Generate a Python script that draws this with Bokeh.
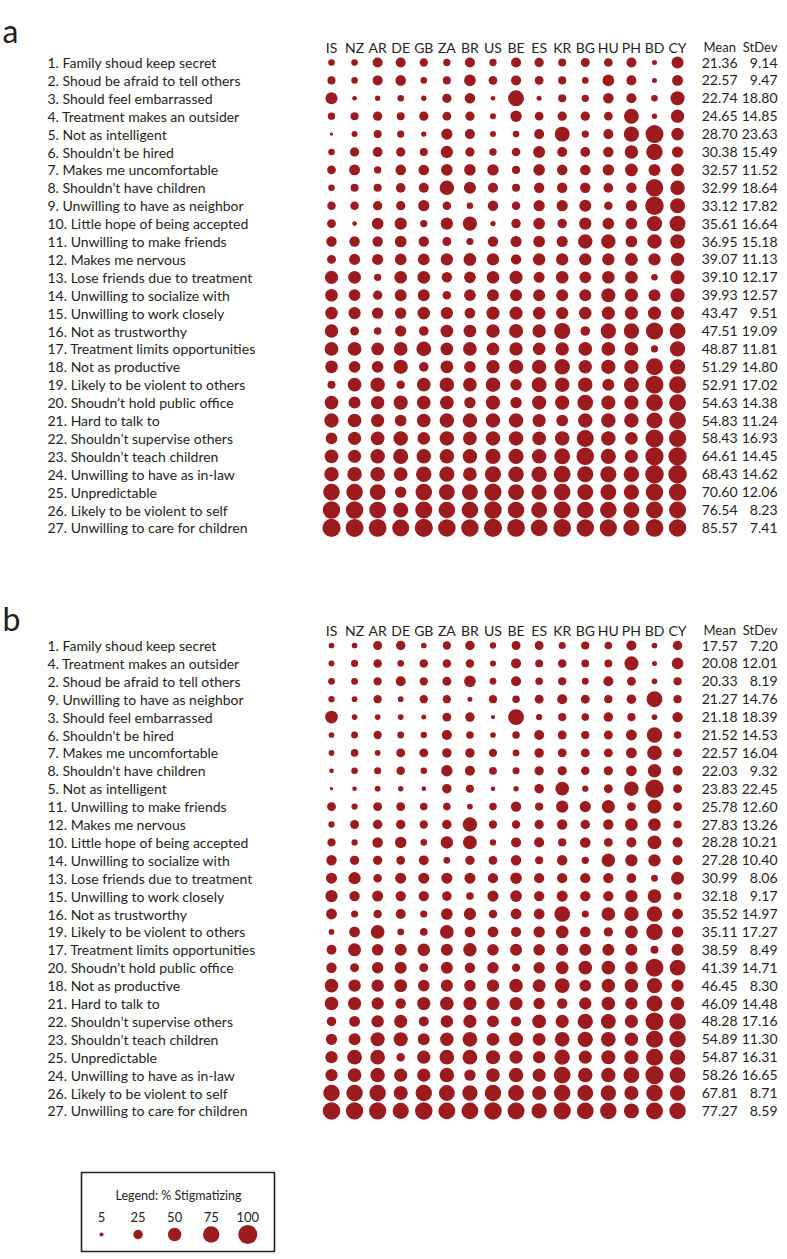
from bokeh.plotting import figure
from bokeh.models import Range1d, ColumnDataSource
from bokeh.core.properties import value
from bokeh.embed import file_html
from bokeh.resources import INLINE
import math

countries = ["IS", "NZ", "AR", "DE", "GB", "ZA", "BR", "US", "BE", "ES", "KR", "BG", "HU", "PH", "BD", "CY"]

labels_a = [
    "1. Family shoud keep secret", "2. Shoud be afraid to tell others", "3. Should feel embarrassed",
    "4. Treatment makes an outsider", "5. Not as intelligent", "6. Shouldn\u2019t be hired",
    "7. Makes me uncomfortable", "8. Shouldn\u2019t have children", "9. Unwilling to have as neighbor",
    "10. Little hope of being accepted", "11. Unwilling to make friends", "12. Makes me nervous",
    "13. Lose friends due to treatment", "14. Unwilling to socialize with", "15. Unwilling to work closely",
    "16. Not as trustworthy", "17. Treatment limits opportunities", "18. Not as productive",
    "19. Likely to be violent to others", "20. Shoudn\u2019t hold public office", "21. Hard to talk to",
    "22. Shouldn\u2019t supervise others", "23. Shouldn\u2019t teach children", "24. Unwilling to have as in-law",
    "25. Unpredictable", "26. Likely to be violent to self", "27. Unwilling to care for children",
]
mean_a = [21.36, 22.57, 22.74, 24.65, 28.70, 30.38, 32.57, 32.99, 33.12, 35.61, 36.95, 39.07, 39.10, 39.93,
          43.47, 47.51, 48.87, 51.29, 52.91, 54.63, 54.83, 58.43, 64.61, 68.43, 70.60, 76.54, 85.57]
sd_a = [9.14, 9.47, 18.80, 14.85, 23.63, 15.49, 11.52, 18.64, 17.82, 16.64, 15.18, 11.13, 12.17, 12.57,
        9.51, 19.09, 11.81, 14.80, 17.02, 14.38, 11.24, 16.93, 14.45, 14.62, 12.06, 8.23, 7.41]
# % stigmatizing, one list per item, countries in the order above
vals_a = [
    [12, 12, 28, 28, 19, 15, 28, 15, 28, 24, 18, 22, 21, 28, 7, 40],
    [18, 12, 28, 31, 12, 18, 38, 21, 28, 22, 18, 12, 38, 28, 7, 33],
    [40, 6, 8, 12, 8, 24, 31, 6, 70, 7, 18, 15, 31, 28, 12, 55],
    [15, 18, 24, 18, 24, 21, 24, 10, 36, 21, 24, 24, 21, 62, 8, 49],
    [3, 10, 18, 15, 8, 35, 28, 10, 12, 28, 62, 15, 28, 65, 90, 44],
    [12, 24, 27, 24, 18, 42, 24, 15, 21, 40, 28, 27, 30, 50, 75, 35],
    [21, 33, 15, 31, 31, 37, 37, 36, 18, 37, 31, 31, 36, 45, 40, 45],
    [12, 18, 18, 26, 28, 58, 40, 28, 18, 30, 30, 30, 26, 30, 85, 58],
    [20, 20, 24, 24, 35, 20, 12, 30, 20, 35, 35, 40, 20, 35, 95, 62],
    [22, 6, 38, 42, 15, 42, 56, 8, 25, 38, 25, 42, 38, 38, 65, 70],
    [30, 30, 30, 38, 30, 22, 14, 30, 34, 38, 34, 58, 58, 38, 58, 60],
    [22, 34, 34, 38, 38, 42, 45, 42, 30, 42, 42, 42, 42, 45, 42, 50],
    [48, 45, 15, 44, 45, 30, 38, 44, 48, 34, 44, 38, 44, 44, 12, 54],
    [44, 38, 24, 40, 40, 20, 38, 40, 40, 40, 40, 40, 55, 48, 40, 55],
    [44, 42, 36, 36, 44, 42, 32, 48, 48, 44, 42, 44, 48, 48, 48, 48],
    [50, 22, 16, 35, 26, 45, 45, 50, 55, 50, 72, 26, 65, 65, 82, 70],
    [52, 52, 45, 52, 60, 45, 52, 45, 50, 44, 50, 52, 52, 52, 14, 65],
    [45, 38, 38, 57, 26, 45, 38, 50, 57, 57, 66, 50, 57, 57, 80, 65],
    [18, 52, 58, 20, 52, 58, 52, 58, 36, 62, 58, 58, 40, 62, 90, 80],
    [52, 40, 50, 56, 52, 52, 36, 56, 36, 56, 56, 68, 56, 56, 78, 78],
    [58, 52, 48, 38, 52, 58, 58, 58, 58, 48, 38, 58, 58, 58, 70, 78],
    [38, 48, 52, 58, 44, 58, 52, 58, 58, 52, 58, 80, 58, 44, 90, 82],
    [52, 48, 58, 64, 58, 58, 58, 64, 64, 58, 70, 85, 64, 48, 92, 92],
    [58, 58, 58, 52, 66, 64, 52, 72, 66, 66, 78, 72, 72, 66, 95, 95],
    [76, 76, 70, 36, 76, 70, 70, 81, 70, 64, 76, 70, 70, 64, 84, 84],
    [84, 84, 78, 62, 80, 76, 76, 84, 76, 70, 80, 76, 76, 70, 80, 80],
    [92, 90, 88, 80, 92, 85, 85, 92, 88, 78, 88, 85, 82, 72, 88, 85],
]

labels_b = [
    "1. Family shoud keep secret", "4. Treatment makes an outsider", "2. Shoud be afraid to tell others",
    "9. Unwilling to have as neighbor", "3. Should feel embarrassed", "6. Shouldn\u2019t be hired",
    "7. Makes me uncomfortable", "8. Shouldn\u2019t have children", "5. Not as intelligent",
    "11. Unwilling to make friends", "12. Makes me nervous", "10. Little hope of being accepted",
    "14. Unwilling to socialize with", "13. Lose friends due to treatment", "15. Unwilling to work closely",
    "16. Not as trustworthy", "19. Likely to be violent to others", "17. Treatment limits opportunities",
    "20. Shoudn\u2019t hold public office", "18. Not as productive", "21. Hard to talk to",
    "22. Shouldn\u2019t supervise others", "23. Shouldn\u2019t teach children", "25. Unpredictable",
    "24. Unwilling to have as in-law", "26. Likely to be violent to self", "27. Unwilling to care for children",
]
mean_b = [17.57, 20.08, 20.33, 21.27, 21.18, 21.52, 22.57, 22.03, 23.83, 25.78, 27.83, 28.28, 27.28, 30.99,
          32.18, 35.52, 35.11, 38.59, 41.39, 46.45, 46.09, 48.28, 54.89, 54.87, 58.26, 67.81, 77.27]
sd_b = [7.20, 12.01, 8.19, 14.76, 18.39, 14.53, 16.04, 9.32, 22.45, 12.60, 13.26, 10.21, 10.40, 8.06,
        9.17, 14.97, 17.27, 8.49, 14.71, 8.30, 14.48, 17.16, 11.30, 16.31, 16.65, 8.71, 8.59]
vals_b = [
    [9, 9, 22, 25, 9, 19, 25, 11, 22, 22, 14, 19, 16, 28, 9, 25],
    [10, 14, 20, 12, 20, 20, 20, 10, 28, 17, 20, 17, 17, 55, 7, 38],
    [13, 13, 19, 28, 19, 22, 38, 13, 28, 16, 19, 13, 28, 22, 9, 19],
    [11, 9, 19, 9, 19, 19, 7, 19, 16, 22, 28, 22, 19, 25, 70, 19],
    [45, 9, 9, 9, 7, 22, 25, 5, 70, 11, 19, 16, 25, 19, 9, 30],
    [9, 13, 19, 13, 11, 28, 16, 9, 16, 28, 22, 19, 22, 33, 65, 16],
    [9, 16, 9, 22, 22, 25, 25, 19, 13, 25, 22, 22, 22, 33, 60, 22],
    [6, 12, 14, 20, 12, 36, 28, 17, 14, 24, 24, 20, 24, 32, 50, 27],
    [3, 6, 9, 8, 6, 25, 18, 6, 8, 25, 52, 11, 22, 58, 95, 22],
    [22, 11, 22, 22, 16, 16, 9, 16, 30, 19, 42, 35, 48, 22, 55, 22],
    [11, 22, 25, 25, 19, 25, 58, 19, 19, 24, 30, 25, 30, 45, 45, 19],
    [19, 11, 31, 36, 12, 43, 53, 11, 28, 28, 19, 31, 22, 28, 53, 28],
    [30, 24, 24, 21, 27, 13, 24, 21, 30, 18, 30, 15, 50, 42, 42, 27],
    [34, 41, 20, 34, 34, 34, 34, 29, 37, 29, 29, 29, 29, 26, 13, 46],
    [42, 30, 34, 30, 30, 26, 16, 34, 38, 30, 34, 30, 30, 42, 52, 18],
    [33, 14, 20, 28, 14, 38, 42, 20, 33, 33, 68, 14, 52, 58, 65, 33],
    [9, 32, 52, 13, 16, 52, 32, 32, 28, 36, 45, 32, 24, 45, 75, 36],
    [27, 47, 37, 40, 44, 40, 50, 37, 40, 37, 40, 40, 40, 40, 18, 40],
    [30, 22, 36, 40, 22, 40, 30, 36, 19, 36, 46, 52, 52, 46, 89, 69],
    [51, 43, 43, 46, 37, 41, 37, 43, 51, 46, 61, 37, 51, 51, 63, 41],
    [52, 48, 42, 30, 48, 52, 48, 48, 48, 36, 30, 42, 52, 42, 70, 50],
    [25, 33, 43, 48, 28, 43, 48, 39, 28, 53, 48, 65, 61, 48, 88, 75],
    [35, 40, 55, 55, 40, 50, 60, 45, 55, 45, 60, 65, 60, 50, 80, 75],
    [42, 60, 60, 20, 48, 60, 60, 55, 48, 42, 65, 48, 55, 55, 80, 65],
    [42, 52, 58, 48, 48, 58, 36, 52, 58, 48, 78, 58, 58, 70, 92, 70],
    [75, 75, 75, 55, 75, 70, 65, 75, 70, 55, 75, 70, 65, 55, 75, 65],
    [85, 82, 82, 72, 85, 78, 78, 85, 80, 65, 82, 78, 75, 62, 80, 75],
]

legend_values = [5, 25, 50, 75, 100]

# ---- styling / layout (pixel positions are relative to the figure's top-left) ----
FONT = "Lato"
RED = "#9b1b1f"
INK = "#231f20"
FS = "14px"
COL_PX = 23.07   # px per column
ROW_PX = 17.9    # px per row
W, H = 787, 1259


def bubble_size(v):
    return 1.9 * math.sqrt(v)


x0 = -331 / COL_PX
y0 = -62 / ROW_PX
p = figure(width=W, height=H, output_backend="svg", toolbar_location=None,
           x_range=Range1d(x0, x0 + W / COL_PX), y_range=Range1d(y0 + H / ROW_PX, y0),
           x_axis_type=None, y_axis_type=None, min_border=0, outline_line_color=None,
           background_fill_color="white", border_fill_color="white")
p.grid.visible = False


def px_x(px):
    return x0 + px / COL_PX


def px_y(px):
    return y0 + px / ROW_PX


X_LABEL = px_x(47)
X_MEAN = px_x(737)
X_MEAN_HDR = px_x(703)
X_SD = px_x(777)


def tx(xs, ys, texts, align="left", size=FS, baseline="middle"):
    p.text(x=xs, y=ys, text=texts, text_font=value(FONT), text_font_size=size,
           text_align=align, text_baseline=baseline, text_color=INK)


def panel(letter, letter_y, offset, labels, vals, means, sds):
    tx([px_x(2)], [letter_y], [letter], size="32px", baseline="alphabetic")
    hy = offset - 0.86
    tx(list(range(len(countries))), [hy] * len(countries), countries, align="center")
    tx([X_MEAN_HDR], [hy], ["Mean"], size="13px")
    tx([X_SD], [hy], ["StDev"], align="right", size="13px")
    ys = [offset + r for r in range(len(labels))]
    tx([X_LABEL] * len(labels), ys, labels)
    tx([X_MEAN] * len(labels), ys, [f"{m:.2f}" for m in means], align="right")
    tx([X_SD] * len(labels), ys, [f"{s:.2f}" for s in sds], align="right")
    xs, yy, sz = [], [], []
    for r, row in enumerate(vals):
        for i, v in enumerate(row):
            xs.append(i)
            yy.append(offset + r)
            sz.append(bubble_size(v))
    src = ColumnDataSource(dict(x=xs, y=yy, size=sz))
    p.scatter(x="x", y="y", size="size", source=src, fill_color=RED, line_color=None)


OFF_B = (645 - 62) / ROW_PX
panel("a", px_y(30), 0, labels_a, vals_a, mean_a, sd_a)
panel("b", px_y(618), OFF_B, labels_b, vals_b, mean_b, sd_b)

# ---- legend box ----
p.quad(left=[px_x(81)], right=[px_x(274)], top=[px_y(1172)], bottom=[px_y(1251)], fill_color=None,
       line_color=INK, line_width=1.6)
tx([px_x(178)], [px_y(1195)], ["Legend: % Stigmatizing"], align="center", size="12.5px")
lx = [px_x(101) + 1.585 * i for i in range(len(legend_values))]
tx(lx, [px_y(1216)] * len(lx), [str(v) for v in legend_values], align="center", size="13px")
p.scatter(x=lx, y=[px_y(1234)] * len(lx), size=[bubble_size(v) for v in legend_values],
          fill_color=RED, line_color=None)

open("out.html", "w").write(file_html(p, INLINE))
